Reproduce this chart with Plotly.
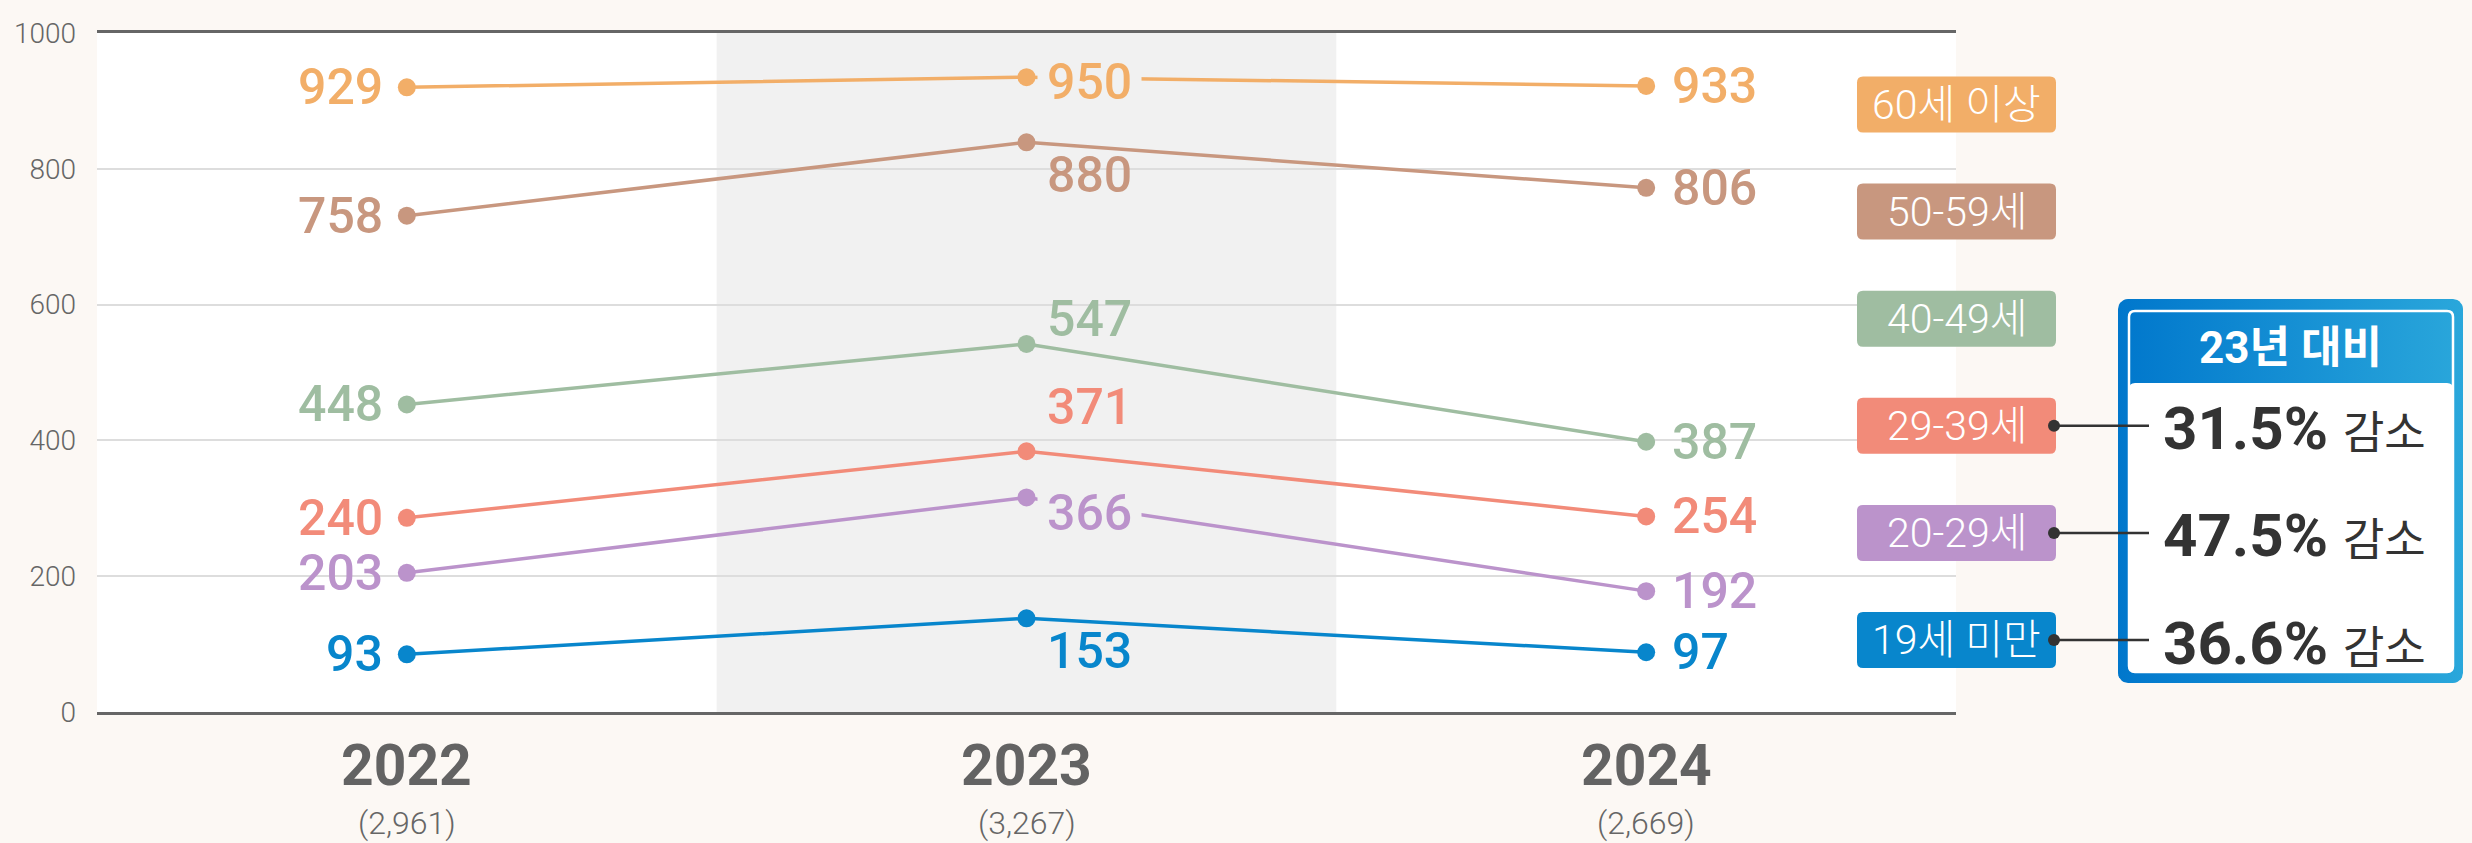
import numpy as np
import plotly.graph_objects as go

W, H = 2472, 843

# ---------------- data ----------------
years = ["2022", "2023", "2024"]
year_totals = ["(2,961)", "(3,267)", "(2,669)"]
groups = ["60세 이상", "50-59세", "40-49세", "29-39세", "20-29세", "19세 미만"]

# numbers printed next to the points
printed_60plus = [929, 950, 933]
printed_50s = [758, 880, 806]
printed_40s = [448, 547, 387]
printed_30s = [240, 371, 254]
printed_20s = [203, 366, 192]
printed_under19 = [93, 153, 97]

# heights at which the points are drawn
level_60plus = [920, 935, 922]
level_50s = [731, 839, 772]
level_40s = [453, 542, 398]
level_30s = [286, 384, 288]
level_20s = [205, 316, 178]
level_under19 = [85, 138, 88]

change_groups = ["29-39세", "20-29세", "19세 미만"]
change_pct = ["31.5%", "47.5%", "36.6%"]
change_word = "감소"
panel_title = "23년 대비"

y_ticks = [0, 200, 400, 600, 800, 1000]

# ---------------- styling ----------------
colors = ["#F2AE68", "#C8977F", "#9FBDA1", "#F28B79", "#BB93CB", "#0886CC"]
printed = [printed_60plus, printed_50s, printed_40s, printed_30s, printed_20s, printed_under19]
levels = [level_60plus, level_50s, level_40s, level_30s, level_20s, level_under19]

PAPER = "#FCF8F4"
BAND = "#F1F1F1"
NUM_FONT = "Roboto, 'Noto Sans CJK KR', sans-serif"

PL, PR, PT, PB = 97, 1956, 33, 712
xs = list(range(len(years)))

# label offsets for the middle year (pixels, + = up)
mid_shift = [-5, -33, 25, 44, -16, -33]
mid_bg = [True, False, False, False, True, False]

fig = go.Figure()

for i, g in enumerate(groups):
    fig.add_trace(go.Scatter(
        x=xs, y=levels[i], mode="lines+markers", name=g,
        line=dict(color=colors[i], width=3.5),
        marker=dict(color=colors[i], size=18),
        hoverinfo="skip", showlegend=False, cliponaxis=False,
    ))

# -------- helper geometry for the right panel (pixel axes x2/y2) --------
def rounded_poly(x0, y0, x1, y1, r, n=8):
    pts = []
    corners = [(x1 - r, y0 + r, -np.pi / 2, 0), (x1 - r, y1 - r, 0, np.pi / 2),
               (x0 + r, y1 - r, np.pi / 2, np.pi), (x0 + r, y0 + r, np.pi, 1.5 * np.pi)]
    for cx, cy, a0, a1 in corners:
        for a in np.linspace(a0, a1, n):
            pts.append((cx + r * np.cos(a), cy + r * np.sin(a)))
    pts.append(pts[0])
    return [p[0] for p in pts], [p[1] for p in pts]


def rrect_path(x0, y0, x1, y1, r):
    return (f"M{x0 + r},{y0} L{x1 - r},{y0} Q{x1},{y0} {x1},{y0 + r} L{x1},{y1 - r} "
            f"Q{x1},{y1} {x1 - r},{y1} L{x0 + r},{y1} Q{x0},{y1} {x0},{y1 - r} "
            f"L{x0},{y0 + r} Q{x0},{y0} {x0 + r},{y0} Z")


# gradient panel
BX0, BY0, BX1, BY1 = 2118, 299, 2463, 683
px, py = rounded_poly(BX0, BY0, BX1, BY1, 10)
fig.add_trace(go.Scatter(
    x=px, y=py, fill="toself", mode="lines", line=dict(width=0, color="rgba(0,0,0,0)"),
    fillgradient=dict(type="horizontal", colorscale=[[0, "#0077CC"], [1, "#2AA7DB"]]),
    xaxis="x2", yaxis="y2", hoverinfo="skip", showlegend=False,
))

shapes = []
# plot area white + shaded middle year
shapes.append(dict(type="rect", xref="x", yref="y", x0=-0.5, x1=2.5, y0=0, y1=1000,
                   fillcolor="white", line=dict(width=0), layer="below"))
shapes.append(dict(type="rect", xref="x", yref="y", x0=0.5, x1=1.5, y0=0, y1=1000,
                   fillcolor=BAND, line=dict(width=0), layer="below"))

annotations = []

# data labels
for i in range(len(groups)):
    for j in range(len(years)):
        txt = str(printed[i][j])
        f = dict(family=NUM_FONT, size=50, color=colors[i], weight=500)
        if j == 0:
            annotations.append(dict(x=xs[j], y=levels[i][j], xref="x", yref="y", text=txt,
                                    showarrow=False, xanchor="right", yanchor="middle",
                                    xshift=-22, font=f))
        elif j == 1:
            annotations.append(dict(x=xs[j], y=levels[i][j], xref="x", yref="y", text=txt,
                                    showarrow=False, xanchor="left", yanchor="middle",
                                    xshift=10, yshift=mid_shift[i], borderpad=9,
                                    bgcolor=BAND if mid_bg[i] else "rgba(0,0,0,0)", font=f))
        else:
            annotations.append(dict(x=xs[j], y=levels[i][j], xref="x", yref="y", text=txt,
                                    showarrow=False, xanchor="left", yanchor="middle",
                                    xshift=24, font=f))

# year labels
for j, yr in enumerate(years):
    annotations.append(dict(x=xs[j], y=765, xref="x", yref="y2", text=f"<b>{yr}</b>",
                            showarrow=False, xanchor="center", yanchor="middle", borderpad=0,
                            font=dict(family=NUM_FONT, size=57, color="#636363")))
    annotations.append(dict(x=xs[j], y=823, xref="x", yref="y2", text=year_totals[j],
                            showarrow=False, xanchor="center", yanchor="middle", borderpad=0,
                            font=dict(family=NUM_FONT, size=32, color="#666666", weight=300)))

# legend boxes
LX0, LX1 = 1857, 2056
box_cy = {}
for i, g in enumerate(groups):
    cy = 104.5 + 107.1 * i
    box_cy[g] = cy
    shapes.append(dict(type="path", xref="x2", yref="y2",
                       path=rrect_path(LX0, cy - 28, LX1, cy + 28, 6),
                       fillcolor=colors[i], line=dict(width=0), layer="above"))
    annotations.append(dict(x=(LX0 + LX1) / 2, y=cy, xref="x2", yref="y2", text=g,
                            showarrow=False, xanchor="center", yanchor="middle",
                            font=dict(family=NUM_FONT, size=41, color="white", weight=300)))

# panel inner parts
shapes.append(dict(type="path", xref="x2", yref="y2",
                   path=rrect_path(2129, 383, 2453, 672, 6),
                   fillcolor="white", line=dict(width=0), layer="above"))
shapes.append(dict(type="path", xref="x2", yref="y2",
                   path=rrect_path(2129, 311, 2453, 672, 6),
                   fillcolor="rgba(0,0,0,0)", line=dict(width=2.5, color="white"), layer="above"))
annotations.append(dict(x=(BX0 + BX1) / 2, y=348, xref="x2", yref="y2", text=f"<b>{panel_title}</b>",
                        showarrow=False, xanchor="center", yanchor="middle",
                        font=dict(family=NUM_FONT, size=44, color="white")))

# connectors and percentages
for k, g in enumerate(change_groups):
    cy = box_cy[g]
    shapes.append(dict(type="line", xref="x2", yref="y2", x0=2054, x1=2149, y0=cy, y1=cy,
                       line=dict(color="#333333", width=2.5), layer="above"))
    shapes.append(dict(type="circle", xref="x2", yref="y2", x0=2048, x1=2060, y0=cy - 6, y1=cy + 6,
                       fillcolor="#333333", line=dict(width=0), layer="above"))
    annotations.append(dict(x=2161, y=cy + 3, xref="x2", yref="y2",
                            text=f"<b>{change_pct[k]}</b> <span style='font-size:45px'>{change_word}</span>",
                            showarrow=False, xanchor="left", yanchor="middle",
                            font=dict(family=NUM_FONT, size=60, color="#333333")))

fig.update_layout(
    width=W, height=H,
    margin=dict(l=0, r=0, t=0, b=0, pad=0),
    paper_bgcolor=PAPER, plot_bgcolor="rgba(0,0,0,0)",
    hovermode=False, showlegend=False,
    xaxis=dict(domain=[PL / W, PR / W], range=[-0.5, 2.5], showgrid=False, zeroline=False,
               showticklabels=False, ticks="", showline=True, mirror=True,
               linecolor="#666666", linewidth=3, fixedrange=True, automargin=False),
    yaxis=dict(domain=[1 - PB / H, 1 - PT / H], range=[0, 1000], tickvals=y_ticks,
               ticktext=[str(v) for v in y_ticks], showgrid=True, gridcolor="#DDDDDD",
               gridwidth=2, zeroline=False, showline=False, ticks="", ticklabelstandoff=20,
               tickfont=dict(family=NUM_FONT, size=28, color="#666666", weight=300),
               fixedrange=True, automargin=False),
    xaxis2=dict(domain=[0, 1], range=[0, W], visible=False, anchor="y2", fixedrange=True),
    yaxis2=dict(domain=[0, 1], range=[H, 0], visible=False, anchor="x2", fixedrange=True),
    shapes=shapes, annotations=annotations,
)

fig.write_html("out.html", config={"displayModeBar": False},
               post_script="document.body.style.margin='0';")
